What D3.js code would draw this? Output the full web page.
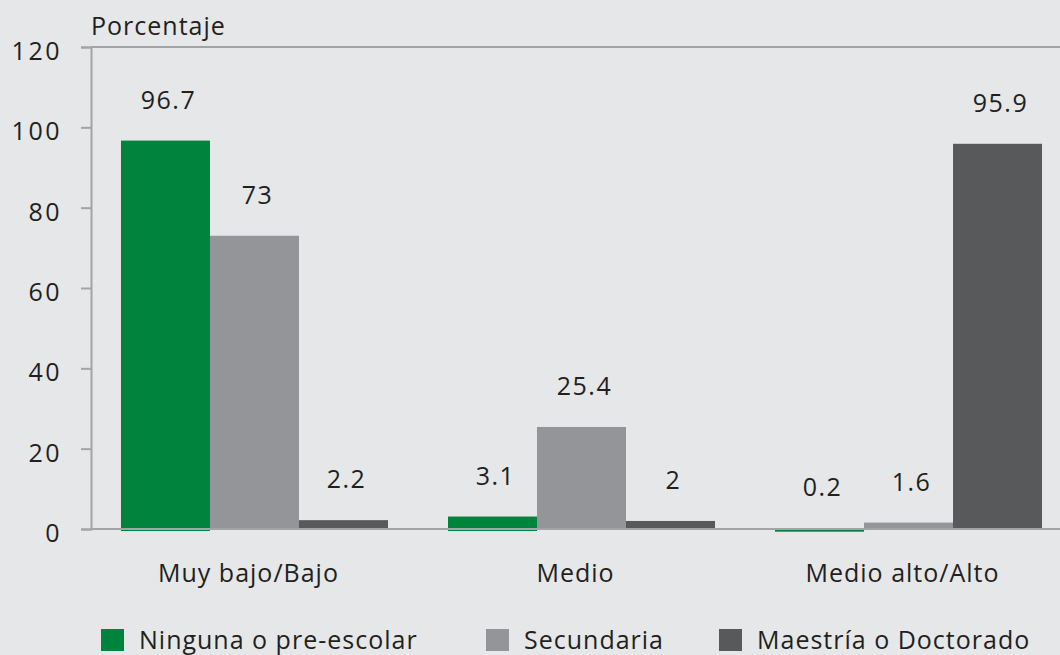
<!DOCTYPE html>
<html><head><meta charset="utf-8">
<script src="https://cdn.jsdelivr.net/npm/d3@7"></script>
<style>
html,body{margin:0;padding:0;background:#e6e7e8;}
svg{display:block;font-family:"Open Sans",sans-serif;}
</style></head>
<body><svg id="c" width="1060" height="655"></svg>
<script>
const categories = ["Muy bajo/Bajo", "Medio", "Medio alto/Alto"];
const seriesNames = ["Ninguna o pre-escolar", "Secundaria", "Maestría o Doctorado"];
const ninguna = [96.7, 3.1, 0.2];
const secundaria = [73, 25.4, 1.6];
const maestria = [2.2, 2, 95.9];
const yTicks = [0, 20, 40, 60, 80, 100, 120];
const colors = ["#00843d", "#939598", "#58595b"];

const series = [ninguna, secundaria, maestria];
const svg = d3.select("#c");
const W = 1060, H = 655;
const x0 = 91, yTop = 47, yBot = 529;

const y = d3.scaleLinear().domain([0, 120]).range([yBot, yTop]);
const xg = d3.scaleBand().domain(categories).range([x0, x0 + 3 * 327]).paddingInner(0.1835).paddingOuter(0.0917);
const xs = d3.scaleBand().domain(seriesNames).range([0, xg.bandwidth()]);

const ink = "#231f20", axisCol = "#a3a4a6";
const FS = 25, LS = 1;
svg.append("line").attr("x1", x0).attr("x2", W).attr("y1", y(120)).attr("y2", y(120)).attr("stroke", axisCol).attr("stroke-width", 2);

// y axis
const yAxis = d3.axisLeft(y).tickValues(yTicks).tickSize(10).tickPadding(19);
const ga = svg.append("g").attr("transform", `translate(${x0},0)`).call(yAxis);
ga.select(".domain").attr("stroke", axisCol).attr("stroke-width", 2);
ga.selectAll(".tick line").attr("stroke", axisCol).attr("stroke-width", 2);
ga.selectAll(".tick text").attr("fill", ink).attr("font-size", FS).attr("font-family", "Open Sans")
  .attr("letter-spacing", 2.5).attr("dy", "0.5em");

// bars
categories.forEach((cat, ci) => {
  series.forEach((s, si) => {
    const v = s[ci];
    const bx = xg(cat) + xs(seriesNames[si]);
    const ext = si === 0 ? 2 : 0;
    svg.append("rect").attr("x", bx).attr("width", xs.bandwidth())
      .attr("y", y(v)).attr("height", Math.max(1.5, y(0) - y(v)) + ext)
      .attr("fill", colors[si]);
    svg.append("text").attr("x", bx + xs.bandwidth() / 2 + 3).attr("y", y(v) - 32)
      .attr("text-anchor", "middle").attr("font-size", FS).attr("letter-spacing", LS + 0.5)
      .attr("fill", ink).text(String(v));
  });
});
// baseline
svg.append("line").attr("x1", x0).attr("x2", W).attr("y1", y(0)).attr("y2", y(0)).attr("stroke", axisCol).attr("stroke-width", 2);

// x labels
categories.forEach(cat => {
  svg.append("text").attr("x", xg(cat) + xg.bandwidth() / 2 - 6).attr("y", 582)
    .attr("text-anchor", "middle").attr("font-size", FS).attr("letter-spacing", LS)
    .attr("fill", ink).text(cat);
});

// y title
svg.append("text").attr("x", 91).attr("y", 35).attr("font-size", FS).attr("letter-spacing", LS)
  .attr("fill", ink).text("Porcentaje");

// legend
const legX = [101, 486, 719];
seriesNames.forEach((n, i) => {
  svg.append("rect").attr("x", legX[i]).attr("y", 629).attr("width", 23).attr("height", 22).attr("fill", colors[i]);
  svg.append("text").attr("x", legX[i] + 38).attr("y", 649).attr("font-size", FS).attr("letter-spacing", LS)
    .attr("fill", ink).text(n);
});
</script></body></html>
